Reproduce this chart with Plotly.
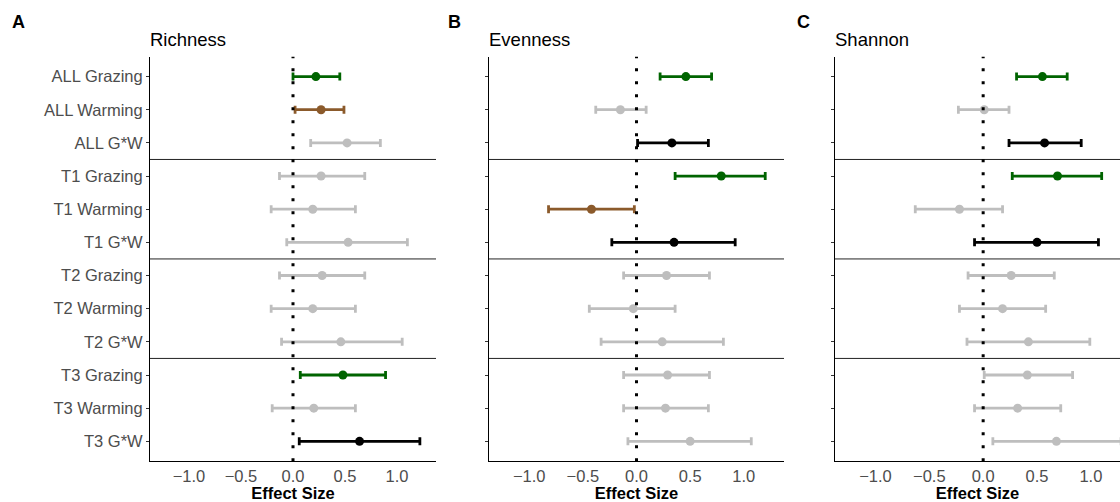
import plotly.graph_objects as go

W, H = 1120, 502

categories = ["ALL Grazing", "ALL Warming", "ALL G*W",
              "T1 Grazing", "T1 Warming", "T1 G*W",
              "T2 Grazing", "T2 Warming", "T2 G*W",
              "T3 Grazing", "T3 Warming", "T3 G*W"]
treatments = ["Grazing", "Warming", "G*W"] * 4

panel_titles = ["Richness", "Evenness", "Shannon"]
panel_letters = ["A", "B", "C"]

richness_est = [0.22, 0.27, 0.52, 0.27, 0.19, 0.53, 0.28, 0.19, 0.46, 0.48, 0.20, 0.64]
richness_lo = [0.00, 0.02, 0.17, -0.13, -0.21, -0.06, -0.13, -0.21, -0.11, 0.07, -0.20, 0.06]
richness_hi = [0.45, 0.49, 0.84, 0.69, 0.60, 1.10, 0.69, 0.60, 1.05, 0.89, 0.60, 1.22]
richness_sig = [True, True, False, False, False, False, False, False, False, True, False, True]

evenness_est = [0.46, -0.15, 0.33, 0.79, -0.42, 0.35, 0.28, -0.03, 0.24, 0.29, 0.27, 0.50]
evenness_lo = [0.22, -0.38, 0.01, 0.36, -0.82, -0.23, -0.12, -0.44, -0.33, -0.12, -0.12, -0.08]
evenness_hi = [0.70, 0.09, 0.67, 1.20, -0.02, 0.92, 0.68, 0.36, 0.81, 0.68, 0.67, 1.07]
evenness_sig = [True, False, True, True, True, True, False, False, False, False, False, False]

shannon_est = [0.55, 0.01, 0.57, 0.69, -0.22, 0.50, 0.26, 0.18, 0.42, 0.41, 0.32, 0.68]
shannon_lo = [0.31, -0.23, 0.24, 0.27, -0.63, -0.08, -0.14, -0.22, -0.15, 0.01, -0.08, 0.09]
shannon_hi = [0.78, 0.24, 0.91, 1.10, 0.18, 1.07, 0.66, 0.58, 0.99, 0.83, 0.72, 1.28]
shannon_sig = [True, False, True, True, False, True, False, False, False, False, False, False]

panels = [
    (richness_est, richness_lo, richness_hi, richness_sig),
    (evenness_est, evenness_lo, evenness_hi, evenness_sig),
    (shannon_est, shannon_lo, shannon_hi, shannon_sig),
]

sig_colors = {"Grazing": "#006400", "Warming": "#8B5A2B", "G*W": "#000000"}
ns_color = "#BEBEBE"

# panel pixel geometry
px_left = [150, 489, 835]
px_right = [436, 784, 1120]
x_ranges = [[-1.375, 1.375], [-1.375, 1.375], [-1.375, 1.27]]
top_px, bot_px = 57, 464

FONT = "Liberation Sans, Arial, sans-serif"

fig = go.Figure()
layout = dict(
    width=W, height=H, margin=dict(l=0, r=0, t=0, b=0),
    plot_bgcolor="white", paper_bgcolor="white", showlegend=False,
    font=dict(family=FONT),
)
shapes = []
annotations = []

for p, (est, lo, hi, sig) in enumerate(panels):
    sfx = "" if p == 0 else str(p + 1)
    xa, ya = "x" + sfx, "y" + sfx
    for i, cat in enumerate(categories):
        col = sig_colors[treatments[i]] if sig[i] else ns_color
        fig.add_trace(go.Scatter(
            x=[est[i]], y=[cat], mode="markers", xaxis=xa, yaxis=ya,
            marker=dict(color=col, size=9),
            error_x=dict(type="data", symmetric=False,
                         array=[hi[i] - est[i]], arrayminus=[est[i] - lo[i]],
                         color=col, thickness=2.8, width=4),
            hoverinfo="skip",
        ))
    dom_x = [px_left[p] / W, px_right[p] / W]
    dom_y = [1 - bot_px / H, 1 - top_px / H]
    layout["xaxis" + sfx] = dict(
        domain=dom_x, range=x_ranges[p], anchor=ya,
        tickvals=[-1.0, -0.5, 0.0, 0.5, 1.0], tickformat=".1f",
        showgrid=False, zeroline=False, showline=True, linecolor="#000000", linewidth=1,
        ticks="",
        tickfont=dict(size=16.5, color="#4D4D4D", family=FONT),
        title=dict(text="<b>Effect Size</b>", font=dict(size=16.5, color="#000000", family=FONT), standoff=5),
    )
    layout["yaxis" + sfx] = dict(
        domain=dom_y, anchor=xa, type="category",
        categoryorder="array", categoryarray=categories,
        range=[len(categories) - 0.4, -0.6],
        showgrid=False, zeroline=False, showline=True, linecolor="#000000", linewidth=1,
        ticks="outside", ticklen=3, tickcolor="#333333",
        showticklabels=(p == 0),
        tickfont=dict(size=16.5, color="#4D4D4D", family=FONT),
    )
    # separators between groups
    for b in [2.5, 5.5, 8.5]:
        shapes.append(dict(type="line", xref=xa + " domain", yref=ya,
                           x0=0, x1=1, y0=b, y1=b,
                           line=dict(color="#222222", width=1), layer="above"))
    # zero reference
    shapes.append(dict(type="line", xref=xa, yref=ya + " domain",
                       x0=0, x1=0, y0=0, y1=1,
                       line=dict(color="#000000", width=3, dash="3px,10px"), layer="above"))
    annotations.append(dict(text=panel_titles[p], xref="paper", yref="paper",
                            x=(px_left[p] - 2) / W, y=1 - 40 / H, xanchor="left", yanchor="middle",
                            showarrow=False, font=dict(size=18.5, color="#000000", family=FONT)))

letter_x = [10, 446, 795]
for p in range(3):
    annotations.append(dict(text="<b>" + panel_letters[p] + "</b>", xref="paper", yref="paper",
                            x=letter_x[p] / W, y=1 - 22 / H, xanchor="left", yanchor="middle",
                            showarrow=False, font=dict(size=18, color="#000000", family=FONT)))

layout["shapes"] = shapes
layout["annotations"] = annotations
fig.update_layout(**layout)
fig.write_html("out.html")
